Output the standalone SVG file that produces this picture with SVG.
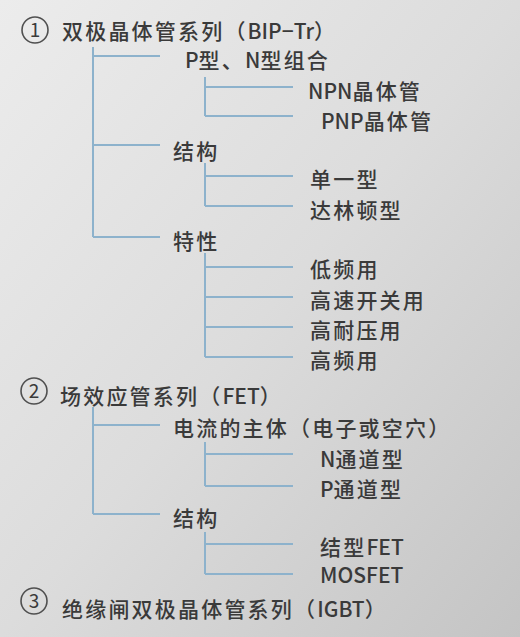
<svg xmlns="http://www.w3.org/2000/svg" width="520" height="637" viewBox="0 0 520 637">
<defs>
<linearGradient id="bg" x1="0" y1="0" x2="1" y2="1">
<stop offset="0" stop-color="#ececec"/>
<stop offset="0.5" stop-color="#dcdcdc"/>
<stop offset="1" stop-color="#c4c4c4"/>
</linearGradient>
<style>
text{font-family:"Noto Sans CJK SC","Noto Sans",sans-serif;font-size:21px;font-weight:500;fill:#3a3a3a;letter-spacing:2.2px}
.l{letter-spacing:0}
.c{fill:none;stroke:#505050;stroke-width:1.6}
.n{font-size:19px;font-weight:400;letter-spacing:0;text-anchor:middle}
.ln{fill:none;stroke:#8db2cc;stroke-width:2}
</style>
</defs>
<rect width="520" height="637" fill="url(#bg)"/>
<g id="connectors" class="ln">
<path d="M93 47V237M93 56H160M93 145H160M93 237H160"/>
<path d="M205 77V116M205 87H293M205 116H293"/>
<path d="M205 163V206M205 176H293M205 206H293"/>
<path d="M205 253V357M205 267H293M205 297H293M205 327H293M205 357H293"/>
<path d="M93 407V514M93 425H160M93 514H160"/>
<path d="M205 442V486M205 454H293M205 486H293"/>
<path d="M205 532V574M205 544H293M205 574H293"/>
</g>
<g id="bjt">
<circle class="c" cx="35" cy="30" r="13"/>
<text class="n" x="35" y="37">1</text>
<text x="62" y="39">双极晶体管系列（<tspan class="l">BIP−Tr</tspan>）</text>
</g>
<g id="pn-combo"><text x="185" y="68"><tspan class="l">P</tspan>型、<tspan class="l">N</tspan>型组合</text></g>
<g id="npn"><text x="308" y="99"><tspan class="l">NPN</tspan>晶体管</text></g>
<g id="pnp"><text x="321" y="129"><tspan class="l">PNP</tspan>晶体管</text></g>
<g id="bjt-structure"><text x="173" y="159">结构</text></g>
<g id="single"><text x="310" y="187">单一型</text></g>
<g id="darlington"><text x="310" y="218">达林顿型</text></g>
<g id="bjt-char"><text x="173" y="249">特性</text></g>
<g id="low-freq"><text x="310" y="277">低频用</text></g>
<g id="fast-switch"><text x="310" y="308">高速开关用</text></g>
<g id="high-voltage"><text x="310" y="338">高耐压用</text></g>
<g id="high-freq"><text x="310" y="368">高频用</text></g>
<g id="fet">
<circle class="c" cx="34" cy="391" r="13"/>
<text class="n" x="34" y="398">2</text>
<text x="60" y="404">场效应管系列（<tspan class="l">FET</tspan>）</text>
</g>
<g id="carrier"><text x="173" y="436">电流的主体（电子或空穴）</text></g>
<g id="n-channel"><text x="320" y="467"><tspan class="l">N</tspan>通道型</text></g>
<g id="p-channel"><text x="320" y="497"><tspan class="l">P</tspan>通道型</text></g>
<g id="fet-structure"><text x="173" y="526">结构</text></g>
<g id="jfet"><text x="320" y="555">结型<tspan class="l">FET</tspan></text></g>
<g id="mosfet"><text class="l" x="320" y="583">MOSFET</text></g>
<g id="igbt">
<circle class="c" cx="34" cy="601" r="13"/>
<text class="n" x="34" y="608">3</text>
<text x="62" y="617">绝缘闸双极晶体管系列（<tspan class="l">IGBT</tspan>）</text>
</g>
</svg>
